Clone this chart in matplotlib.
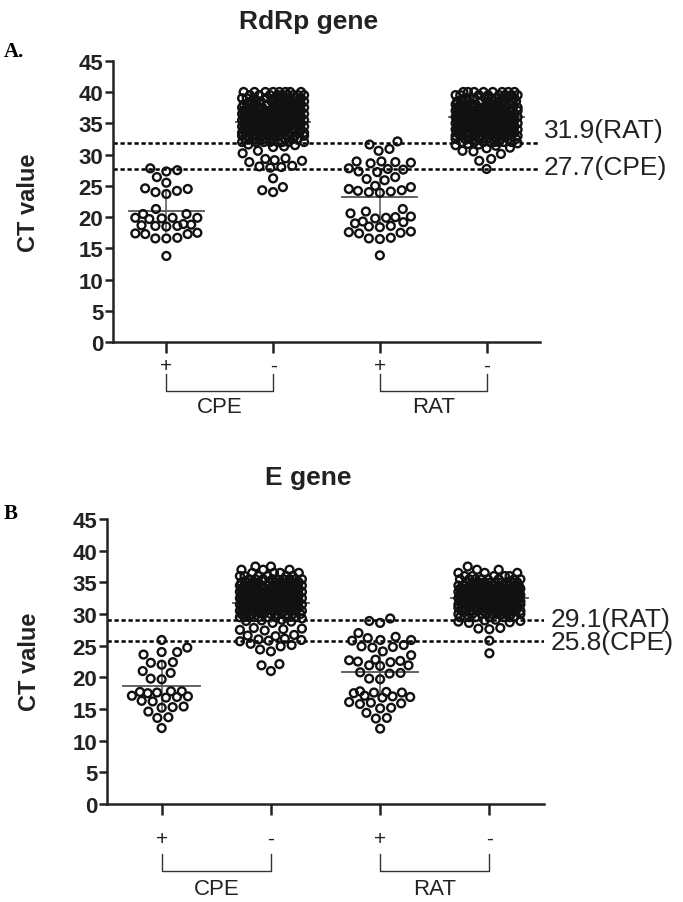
import numpy as np
import matplotlib
matplotlib.use("Agg")
import matplotlib.pyplot as plt
from matplotlib.transforms import blended_transform_factory

plt.rcParams['font.family'] = ['Liberation Sans', 'DejaVu Sans']

# Categories
tick_labels = ['+', '-', '+', '-']
group_pos = [1, 2, 3, 4]
bracket_names = ['CPE', 'RAT']

# ---------------- RdRp gene (panel A) ----------------
rdrp_cpe_pos = [27.8, 27.3, 27.5, 26.4, 25.5, 24.6, 24.2, 24.0, 24.5, 23.7, 21.3,
                20.5, 20.5, 19.9, 19.9, 19.8, 19.9, 19.7, 18.7, 18.6, 18.8, 18.5,
                18.6, 18.9, 17.4, 17.3, 17.5, 17.3, 16.6, 16.6, 16.7, 13.8]
rdrp_cpe_neg_tail = [31.5, 31.3, 31.6, 31.2, 30.6, 30.2, 29.3, 29.0, 29.4, 29.1,
                     28.8, 28.2, 28.0, 28.1, 27.9, 26.2, 24.8, 24.0, 24.3]
rdrp_cpe_neg_levels = [32.0, 32.5, 33.0, 33.5, 34.0, 34.5, 35.0, 35.5, 36.0,
                       36.5, 37.0, 37.5, 38.0, 38.5, 39.0, 39.5, 40.0]
rdrp_cpe_neg_counts = [8, 9, 10, 12, 13, 13, 13, 13, 13, 13, 12, 12, 10, 10, 10, 9, 8]
rdrp_rat_pos = [32.1, 31.6, 30.6, 30.9, 28.9, 28.8, 28.7, 28.9, 28.6, 27.7, 27.6,
                27.8, 27.3, 27.2, 26.4, 26.1, 25.9, 25.0, 24.8, 24.5, 24.2, 24.0,
                24.1, 24.3, 23.9, 21.3, 20.9, 20.6, 20.0, 19.9, 20.1, 19.8, 19.2,
                19.0, 19.3, 18.6, 18.4, 18.5, 17.6, 17.5, 17.7, 17.4, 16.7, 16.5,
                16.6, 13.9]
rdrp_rat_neg_tail = [31.8, 31.6, 31.5, 31.7, 31.4, 31.1, 31.0, 30.6, 30.5, 30.1,
                     29.3, 29.0, 27.7]
rdrp_rat_neg_levels = [32.0, 32.5, 33.0, 33.5, 34.0, 34.5, 35.0, 35.5, 36.0,
                       36.5, 37.0, 37.5, 38.0, 38.5, 39.0, 39.5, 40.0]
rdrp_rat_neg_counts = [8, 9, 12, 13, 14, 14, 14, 14, 14, 13, 13, 12, 10, 10, 9, 8, 8]
rdrp_means = [21.0, 35.2, 23.2, 36.0]
rdrp_sd = [3.4, 3.6, 4.3, 2.6]
rdrp_cutoffs = [31.9, 27.7]
rdrp_cut_labels = ['31.9(RAT)', '27.7(CPE)']

# ---------------- E gene (panel B) ----------------
e_cpe_pos = [25.9, 24.7, 24.0, 24.0, 23.6, 22.4, 22.0, 22.3, 21.0, 20.7, 19.8,
             19.7, 17.8, 17.6, 17.7, 17.5, 17.8, 17.0, 16.9, 17.1, 16.8, 16.2,
             16.3, 15.4, 15.3, 15.2, 14.6, 13.6, 13.7, 12.0]
e_cpe_neg_tail = [29.3, 29.0, 28.8, 28.9, 29.1, 28.6, 27.7, 27.5, 27.6, 27.8,
                  27.4, 26.7, 26.5, 26.6, 26.0, 25.9, 25.8, 26.1, 25.7, 25.1,
                  25.3, 24.9, 24.4, 24.1, 22.1, 21.9, 21.0]
e_cpe_neg_levels = [29.5, 30.0, 30.5, 31.0, 31.5, 32.0, 32.5, 33.0, 33.5, 34.0,
                    34.5, 35.0, 35.5, 36.0, 36.5, 37.0, 37.5]
e_cpe_neg_counts = [9, 10, 12, 13, 13, 13, 13, 13, 13, 12, 12, 10, 9, 6, 4, 3, 2]
e_rat_pos = [29.3, 28.9, 28.6, 27.0, 26.4, 26.2, 25.9, 25.9, 25.8, 25.1, 24.9,
             24.7, 24.8, 24.1, 23.5, 22.8, 22.6, 22.5, 22.7, 22.4, 21.9, 21.8,
             21.9, 20.8, 20.7, 20.6, 19.7, 19.8, 17.7, 17.6, 17.5, 17.8, 17.6,
             17.0, 16.9, 17.1, 16.8, 16.0, 15.8, 15.9, 16.1, 15.1, 15.2, 14.4,
             13.6, 13.5, 11.9]
e_rat_neg_tail = [29.0, 28.8, 28.9, 28.7, 29.1, 28.6, 27.8, 27.6, 27.7, 25.8, 23.8]
e_rat_neg_levels = [29.5, 30.0, 30.5, 31.0, 31.5, 32.0, 32.5, 33.0, 33.5, 34.0,
                    34.5, 35.0, 35.5, 36.0, 36.5, 37.0, 37.5]
e_rat_neg_counts = [8, 10, 12, 13, 13, 13, 13, 13, 13, 13, 12, 10, 8, 5, 3, 2, 1]
e_means = [18.7, 31.8, 20.9, 32.6]
e_sd = [3.8, 3.0, 3.7, 2.3]
e_cutoffs = [29.1, 25.8]
e_cut_labels = ['29.1(RAT)', '25.8(CPE)']


def swarm_offsets(vals, py, px, diam=11.0, max_half=31.0):
    """Beeswarm x offsets (data units), working in pixel space."""
    ys = np.asarray(vals, dtype=float) * py
    xs = np.zeros(len(ys))
    placed = []
    for i in np.argsort(ys, kind='stable'):
        y = ys[i]
        iv = []
        for j in placed:
            dy = abs(ys[j] - y)
            if dy < diam:
                w = np.sqrt(diam ** 2 - dy ** 2)
                iv.append((xs[j] - w, xs[j] + w))
        cands = sorted([0.0] + [a for a, b in iv] + [b for a, b in iv], key=abs)
        chosen = None
        for c in cands:
            if abs(c) > max_half:
                break
            if all(not (a + 1e-6 < c < b - 1e-6) for a, b in iv):
                chosen = c
                break
        if chosen is None:
            grid = np.linspace(-max_half, max_half, 41)
            pj = np.array(placed)
            d = np.hypot(xs[pj][None, :] - grid[:, None], (ys[pj] - y)[None, :])
            chosen = grid[np.argmax(d.min(axis=1))]
        xs[i] = chosen
        placed.append(i)
    return xs / px


def draw_panel(ax, groups, means, sds, cutoffs, cut_labels, label_dy, lab_x,
               tick_pad, br_top, br_bot, br_lab):
    fig = ax.figure
    bbox = ax.get_position()
    ax_w = bbox.width * fig.get_figwidth() * fig.dpi
    ax_h = bbox.height * fig.get_figheight() * fig.dpi
    py = ax_h / 45.0
    px = ax_w / 4.0

    for cval, clab, dy in zip(cutoffs, cut_labels, label_dy):
        ax.axhline(cval, color='black', lw=1.8, ls=(0, (1.7, 1.1)), zorder=1)
        ax.text(lab_x, cval + dy, clab, transform=blended_transform_factory(ax.transAxes, ax.transData),
                ha='left', va='center', fontsize=19, color='#222222', clip_on=False)

    for pos, vals, m, s in zip(group_pos, groups, means, sds):
        off = swarm_offsets(vals, py, px)
        ax.scatter(pos + off, vals, s=32, facecolors='none', edgecolors='#111111',
                   linewidths=1.7, zorder=3)
        ax.plot([pos - 0.35, pos + 0.35], [m, m], color='#555555', lw=1.3, zorder=2)
        ax.plot([pos, pos], [m - s, m + s], color='#555555', lw=1.1, zorder=2)

    ax.set_xlim(0.5, 4.5)
    ax.set_ylim(0, 45)
    ax.set_yticks(range(0, 46, 5))
    ax.set_xticks(group_pos)
    ax.set_xticklabels(tick_labels, fontsize=15)
    for lab in ax.get_yticklabels():
        lab.set_fontweight('bold')
        lab.set_fontsize(16)
    ax.tick_params(axis='y', direction='out', length=6, width=1.8, pad=1, colors='#222222')
    ax.tick_params(axis='x', direction='out', length=8, width=1.8, pad=tick_pad, colors='#222222')
    for sp in ['top', 'right']:
        ax.spines[sp].set_visible(False)
    for sp in ['left', 'bottom']:
        ax.spines[sp].set_linewidth(1.8)
        ax.spines[sp].set_color('#222222')

    tr = blended_transform_factory(ax.transData, ax.transAxes)
    for k, name in enumerate(bracket_names):
        x0, x1 = group_pos[2 * k], group_pos[2 * k + 1]
        ax.plot([x0, x0, x1, x1], [br_top, br_bot, br_bot, br_top], color='#333333',
                lw=1.0, transform=tr, clip_on=False)
        ax.text((x0 + x1) / 2, br_lab, name, transform=tr, ha='center', va='center',
                fontsize=16, color='#222222')


fig = plt.figure(figsize=(6.83, 9.03), dpi=100)
ax_a = fig.add_axes([0.1654, 0.6198, 0.6252, 0.3119])
ax_b = fig.add_axes([0.1567, 0.1085, 0.6398, 0.3156])

rdrp_groups = [
    rdrp_cpe_pos,
    rdrp_cpe_neg_tail + list(np.repeat(rdrp_cpe_neg_levels, rdrp_cpe_neg_counts)),
    rdrp_rat_pos,
    rdrp_rat_neg_tail + list(np.repeat(rdrp_rat_neg_levels, rdrp_rat_neg_counts)),
]
e_groups = [
    e_cpe_pos,
    e_cpe_neg_tail + list(np.repeat(e_cpe_neg_levels, e_cpe_neg_counts)),
    e_rat_pos,
    e_rat_neg_tail + list(np.repeat(e_rat_neg_levels, e_rat_neg_counts)),
]

draw_panel(ax_a, rdrp_groups, rdrp_means, rdrp_sd, rdrp_cutoffs, rdrp_cut_labels,
           [2.0, 0.3], 1.009, 2, -0.114, -0.174, -0.227)
draw_panel(ax_b, e_groups, e_means, e_sd, e_cutoffs, e_cut_labels,
           [0.1, -0.2], 1.014, 10, -0.175, -0.235, -0.298)

fig.text(0.452, 0.9756, 'RdRp gene', ha='center', va='center', fontsize=19, fontweight='bold',
         color='#222222')
fig.text(0.451, 0.4707, 'E gene', ha='center', va='center', fontsize=19, fontweight='bold',
         color='#222222')
fig.text(0.005, 0.942, 'A.', ha='left', va='center', fontsize=15, fontweight='bold',
         family='Liberation Serif')
fig.text(0.005, 0.431, 'B', ha='left', va='center', fontsize=15, fontweight='bold',
         family='Liberation Serif')
fig.text(0.041, 0.775, 'CT value', ha='center', va='center', rotation=90, fontsize=17,
         fontweight='bold', color='#222222')
fig.text(0.043, 0.267, 'CT value', ha='center', va='center', rotation=90, fontsize=17,
         fontweight='bold', color='#222222')

fig.savefig('out.png', dpi=100)
